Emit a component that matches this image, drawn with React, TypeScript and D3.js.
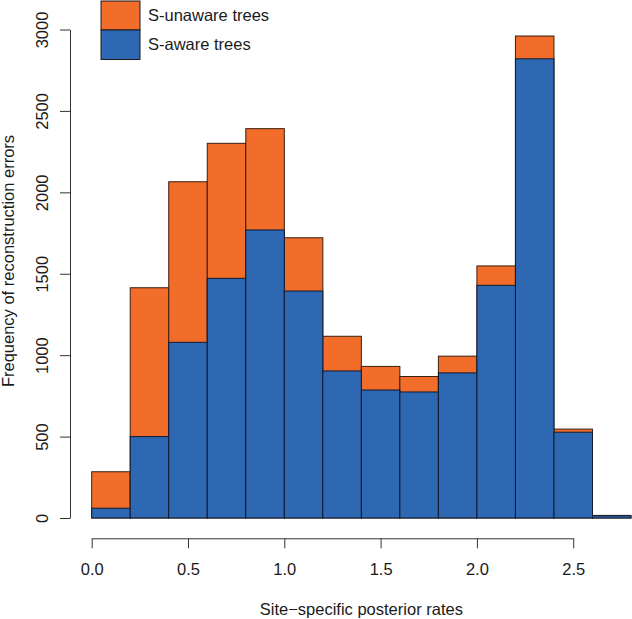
import * as d3 from "d3";
import React, { useEffect, useRef } from "react";

// histogram bins (left edges), width 0.2
const binStarts = [0, 0.2, 0.4, 0.6, 0.8, 1.0, 1.2, 1.4, 1.6, 1.8, 2.0, 2.2, 2.4, 2.6];
const unawareCounts = [284, 1414, 2065, 2301, 2391, 1721, 1116, 931, 869, 994, 1548, 2960, 546, 16];
const awareCounts = [60, 500, 1079, 1472, 1769, 1394, 903, 786, 774, 891, 1429, 2820, 527, 14];
const yTicks = [0, 500, 1000, 1500, 2000, 2500, 3000];
const xTicks = [0, 0.5, 1.0, 1.5, 2.0, 2.5];
const legendLabels = ["S-unaware trees", "S-aware trees"];

export default function App() {
   const ref = useRef(null);

   useEffect(() => {
      const width = 632;
      const height = 619;
      const binWidth = 0.2;
      const orange = "#F36D2A";
      const blue = "#2E67B2";
      const font = "'Liberation Sans', Arial, sans-serif";
      const fontSize = 16.5;

      const svg = d3.select(ref.current);
      svg.selectAll("*").remove();
      svg.attr("width", width).attr("height", height);

      const x = d3.scaleLinear().domain([0, 2.8]).range([91.7, 631]);
      const y = d3.scaleLinear().domain([0, 3000]).range([518, 29.5]);

      // orange bars first, blue ones drawn over them
      const drawBars = (counts, fill, stroke) => {
         svg.append("g")
            .selectAll("rect")
            .data(binStarts)
            .join("rect")
            .attr("x", (d) => x(d))
            .attr("width", (d) => x(d + binWidth) - x(d))
            .attr("y", (d, i) => y(counts[i]))
            .attr("height", (d, i) => y(0) - y(counts[i]))
            .attr("fill", fill)
            .attr("stroke", stroke)
            .attr("stroke-width", 1);
      };
      drawBars(unawareCounts, orange, "#3a1e0e");
      drawBars(awareCounts, blue, "#101a30");

      // y axis
      const yAxis = svg
         .append("g")
         .attr("transform", "translate(70,0)")
         .call(d3.axisLeft(y).tickValues(yTicks).tickSize(10).tickSizeOuter(0).tickFormat(d3.format("d")));
      yAxis.select(".domain").attr("stroke", "#333");
      yAxis.selectAll(".tick line").attr("stroke", "#333");
      yAxis
         .selectAll(".tick text")
         .attr("transform", "rotate(-90)")
         .attr("x", 0)
         .attr("y", -21.7)
         .attr("dy", 0)
         .attr("text-anchor", "middle")
         .attr("font-family", font)
         .attr("font-size", fontSize)
         .attr("fill", "#1a1a1a");

      // x axis (only spans 0 to 2.5)
      const xAxisScale = x.copy().domain([0, 2.5]).range([x(0), x(2.5)]);
      const xAxis = svg
         .append("g")
         .attr("transform", "translate(0,538.3)")
         .call(d3.axisBottom(xAxisScale).tickValues(xTicks).tickSize(10).tickSizeOuter(0).tickFormat(d3.format(".1f")));
      xAxis.select(".domain").attr("stroke", "#333");
      xAxis.selectAll(".tick line").attr("stroke", "#333");
      xAxis
         .selectAll(".tick text")
         .attr("y", 36.7)
         .attr("dy", 0)
         .attr("font-family", font)
         .attr("font-size", fontSize)
         .attr("fill", "#1a1a1a");

      // axis titles
      svg.append("text")
         .text("Site\u2212specific posterior rates")
         .attr("x", x(1.4))
         .attr("y", 615)
         .attr("text-anchor", "middle")
         .attr("font-family", font)
         .attr("font-size", fontSize)
         .attr("fill", "#1a1a1a");
      svg.append("text")
         .text("Frequency of reconstruction errors")
         .attr("transform", `translate(13.5,261) rotate(-90)`)
         .attr("text-anchor", "middle")
         .attr("font-family", font)
         .attr("font-size", fontSize)
         .attr("fill", "#1a1a1a");

      // legend
      const legend = svg.append("g");
      const legendColors = [orange, blue];
      const boxTop = [1, 30];
      const boxBottom = [30, 59.5];
      const textY = [20.7, 50];
      legendLabels.forEach((label, i) => {
         legend
            .append("rect")
            .attr("x", 101)
            .attr("y", boxTop[i])
            .attr("width", 39)
            .attr("height", boxBottom[i] - boxTop[i])
            .attr("fill", legendColors[i])
            .attr("stroke", "#1a1a1a")
            .attr("stroke-width", 1);
         legend
            .append("text")
            .text(label)
            .attr("x", 148)
            .attr("y", textY[i])
            .attr("font-family", font)
            .attr("font-size", fontSize)
            .attr("fill", "#1a1a1a");
      });
   }, []);

   return (
      <svg
         ref={ref}
         style={{ position: "absolute", left: 0, top: 0, display: "block", background: "#fff" }}
      ></svg>
   );
}
